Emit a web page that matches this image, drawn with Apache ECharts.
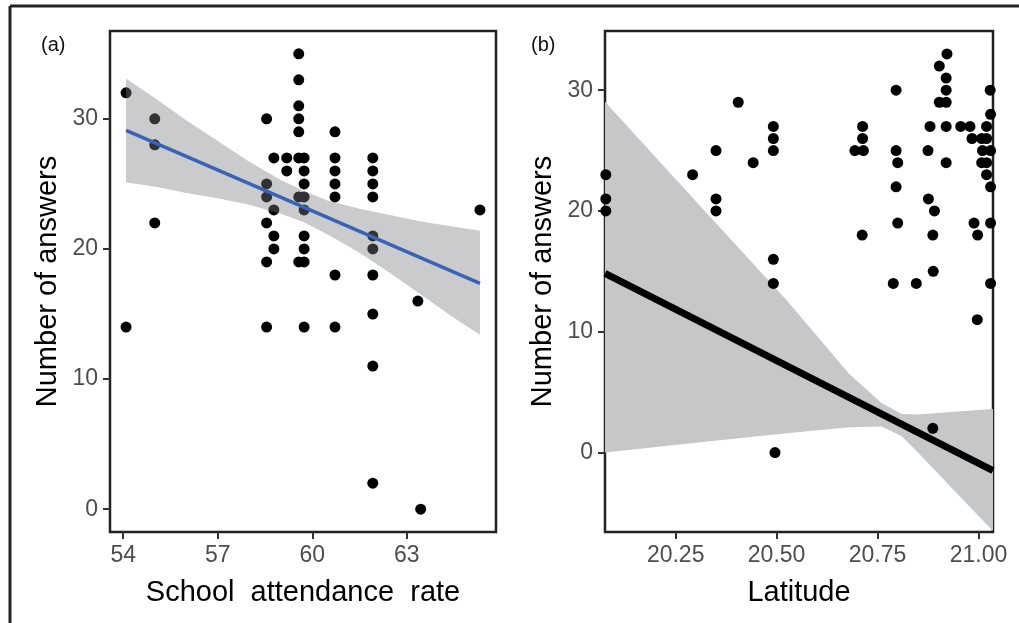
<!DOCTYPE html>
<html>
<head>
    <meta charset="utf-8">
    <title>Number of answers</title>
    <script src="https://cdn.jsdelivr.net/npm/echarts@6/dist/echarts.min.js"></script>
</head>
<body style="margin:0">
    <div id="main" style="width:1019px; height:623px"></div>
    <script type="text/javascript">
        // panel (a): school attendance rate vs number of answers
        var schoolRate = [
            54.09, 54.09,
            55.0, 55.0, 55.0,
            58.55, 58.55, 58.55, 58.55, 58.55, 58.55,
            58.78, 58.78, 58.78, 58.78,
            59.19, 59.19,
            59.57, 59.57, 59.57, 59.57, 59.57, 59.57, 59.57, 59.57,
            59.74, 59.74, 59.74, 59.74, 59.74, 59.74, 59.74, 59.74, 59.74,
            60.72, 60.72, 60.72, 60.72, 60.72, 60.72, 60.72,
            61.92, 61.92, 61.92, 61.92, 61.92, 61.92, 61.92, 61.92, 61.92, 61.92,
            63.35, 63.44, 65.32
        ];
        var answersA = [
            32, 14,
            30, 28, 22,
            30, 25, 24, 22, 19, 14,
            27, 23, 21, 20,
            27, 26,
            35, 33, 31, 30, 29, 27, 24, 19,
            27, 26, 25, 24, 23, 21, 20, 19, 14,
            29, 27, 26, 25, 24, 18, 14,
            27, 26, 25, 24, 21, 20, 18, 15, 11, 2,
            16, 0, 23
        ];
        var fitRateX = [54.09, 65.32];
        var fitRateY = [29.12, 17.36];
        var bandRateX = [54.09, 55, 56, 57, 58, 59, 59.7, 60.5, 61.5, 62.5, 63.5, 64.5, 65.32];
        var bandRateLow = [25.1, 24.8, 24.3, 23.9, 23.4, 22.7, 22.1, 21.1, 19.7, 18.1, 16.4, 14.7, 13.4];
        var bandRateHigh = [33.1, 31.6, 29.9, 28.3, 26.7, 25.3, 24.5, 23.7, 23.1, 22.6, 22.1, 21.7, 21.4];
        var rateTicks = [54, 57, 60, 63];

        // panel (b): latitude vs number of answers
        var latitude = [
            20.077, 20.077, 20.077,
            20.292,
            20.35, 20.35, 20.35,
            20.405, 20.442,
            20.492, 20.492, 20.492, 20.492, 20.492, 20.496,
            20.694, 20.715, 20.713, 20.713, 20.712,
            20.796, 20.796, 20.800, 20.796, 20.800, 20.789,
            20.846,
            20.875, 20.880, 20.876, 20.891, 20.887, 20.888, 20.887,
            20.903, 20.922, 20.920, 20.920, 20.920, 20.903, 20.920, 20.920, 20.920,
            20.956, 20.979, 20.984,
            20.989, 20.998, 20.997,
            21.008, 21.020, 21.020, 21.029, 21.030, 21.010, 21.030, 21.008, 21.020, 21.020, 21.030, 21.030, 21.030
        ];
        var answersB = [
            23, 21, 20,
            23,
            25, 21, 20,
            29, 24,
            27, 26, 25, 16, 14, 0,
            25, 25, 27, 26, 18,
            30, 25, 24, 22, 19, 14,
            14,
            25, 27, 21, 20, 18, 15, 2,
            32, 33, 35, 31, 30, 29, 29, 27, 24,
            27, 27, 26,
            19, 18, 11,
            26, 26, 27, 30, 28, 25, 25, 24, 24, 23, 22, 19, 14
        ];
        var fitLatX = [20.075, 21.036];
        var fitLatY = [14.83, -1.5];
        var bandLatX = [20.075, 20.3, 20.525, 20.68, 20.76, 20.81, 20.85, 20.95, 21.036];
        var bandLatLow = [0.0, 0.8, 1.6, 2.1, 2.15, 1.35, 0.0, -3.5, -6.5];
        var bandLatHigh = [29.05, 20.8, 12.6, 6.5, 4.1, 3.2, 3.15, 3.4, 3.6];
        var latTicks = [20.25, 20.5, 20.75, 21.0];

        var answerTicks = [0, 10, 20, 30];

        function zip(xs, ys) {
            return xs.map(function (x, i) { return [x, ys[i]]; });
        }

        function bandSeries(idx, xs, low, high, color, opacity, z) {
            return {
                type: 'custom',
                xAxisIndex: idx,
                yAxisIndex: idx,
                z: z,
                silent: true,
                data: [0],
                renderItem: function (params, api) {
                    var pts = [];
                    for (var i = 0; i < xs.length; i++) pts.push(api.coord([xs[i], high[i]]));
                    for (var j = xs.length - 1; j >= 0; j--) pts.push(api.coord([xs[j], low[j]]));
                    return {
                        type: 'polygon',
                        shape: { points: pts },
                        style: { fill: color, opacity: opacity }
                    };
                }
            };
        }

        var font = 'Liberation Sans, Arial, sans-serif';
        var tickStyle = { show: true, length: 7, lineStyle: { color: '#333', width: 2 } };
        var labelStyle = { color: '#4d4d4d', fontSize: 23, fontFamily: font, margin: 12 };
        var nameStyle = { color: '#000', fontSize: 29, fontFamily: font };

        function xAxisFor(idx, min, max, ticks, title, fmt) {
            return {
                type: 'value', gridIndex: idx, min: min, max: max,
                name: title, nameLocation: 'middle', nameGap: 46, nameTextStyle: nameStyle,
                axisLine: { show: false, onZero: false },
                axisTick: Object.assign({ customValues: ticks }, tickStyle),
                axisLabel: Object.assign({ customValues: ticks, formatter: fmt }, labelStyle),
                splitLine: { show: false }
            };
        }

        function yAxisFor(idx, min, max) {
            return {
                type: 'value', gridIndex: idx, min: min, max: max,
                name: 'Number of answers', nameLocation: 'middle', nameGap: 48, nameRotate: 90,
                nameTextStyle: nameStyle,
                axisLine: { show: false, onZero: false },
                axisTick: Object.assign({ customValues: answerTicks }, tickStyle),
                axisLabel: Object.assign({ customValues: answerTicks }, labelStyle),
                splitLine: { show: false }
            };
        }

        var myChart = echarts.init(document.getElementById('main'));

        var option = {
            backgroundColor: '#fff',
            animation: false,
            grid: [
                { left: 110, top: 31, width: 386, height: 501, show: true, borderColor: '#222', borderWidth: 2.5, backgroundColor: 'transparent' },
                { left: 605, top: 31, width: 388, height: 501, show: true, borderColor: '#222', borderWidth: 2.5, backgroundColor: 'transparent' }
            ],
            xAxis: [
                xAxisFor(0, 53.58, 65.83, rateTicks, 'School  attendance  rate', function (v) { return String(v); }),
                xAxisFor(1, 20.075, 21.036, latTicks, 'Latitude', function (v) { return v.toFixed(2); })
            ],
            yAxis: [
                yAxisFor(0, -1.75, 36.75),
                yAxisFor(1, -6.58, 34.9)
            ],
            graphic: [
                { type: 'line', shape: { x1: 10, y1: 6, x2: 1019, y2: 6 }, style: { stroke: '#222', lineWidth: 3 } },
                { type: 'line', shape: { x1: 10, y1: 6, x2: 10, y2: 623 }, style: { stroke: '#222', lineWidth: 3 } },
                { type: 'text', left: 41, top: 35, style: { text: '(a)', fontSize: 20, fontFamily: font, fill: '#111' } },
                { type: 'text', left: 531, top: 35, style: { text: '(b)', fontSize: 20, fontFamily: font, fill: '#111' } }
            ],
            series: [
                {
                    type: 'scatter', xAxisIndex: 0, yAxisIndex: 0, z: 2,
                    symbolSize: 11, itemStyle: { color: '#000', opacity: 1 },
                    data: zip(schoolRate, answersA)
                },
                bandSeries(0, bandRateX, bandRateLow, bandRateHigh, '#7a7c80', 0.4, 3),
                {
                    type: 'line', xAxisIndex: 0, yAxisIndex: 0, z: 4,
                    symbol: 'none', lineStyle: { color: '#3a63b8', width: 3.5 },
                    data: zip(fitRateX, fitRateY)
                },
                bandSeries(1, bandLatX, bandLatLow, bandLatHigh, '#c6c7c9', 1, 1),
                {
                    type: 'scatter', xAxisIndex: 1, yAxisIndex: 1, z: 3,
                    symbolSize: 11, itemStyle: { color: '#000', opacity: 1 },
                    data: zip(latitude, answersB)
                },
                {
                    type: 'line', xAxisIndex: 1, yAxisIndex: 1, z: 4,
                    symbol: 'none', lineStyle: { color: '#000', width: 7 },
                    data: zip(fitLatX, fitLatY)
                }
            ]
        };

        myChart.setOption(option);
    </script>
</body>
</html>
